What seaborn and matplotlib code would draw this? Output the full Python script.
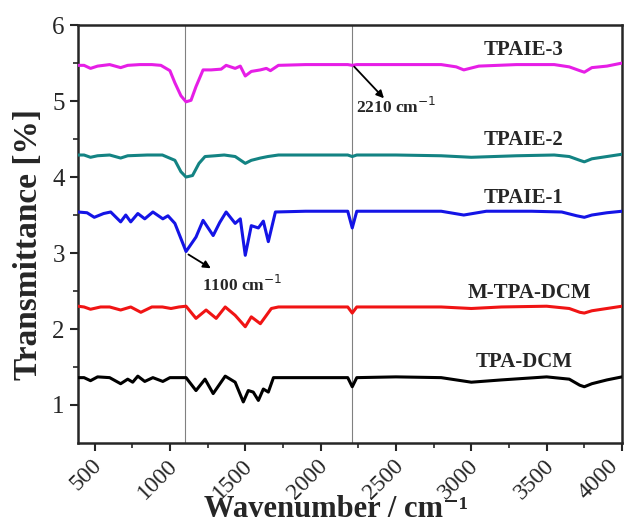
import pandas as pd
import matplotlib.pyplot as plt
import matplotlib.transforms as mtransforms
import seaborn as sns
import numpy as np

# ---------------------------------------------------------
# FTIR spectra (wavenumber, transmittance)
# ---------------------------------------------------------
wn_tpaie3 = [390, 430, 473, 520, 600, 673, 720, 800, 880, 940, 1000, 1033, 1073, 1107,
             1140, 1173, 1220, 1273, 1340, 1373, 1433, 1467, 1500, 1540, 1600, 1640,
             1667, 1720, 1900, 2100, 2180, 2210, 2240, 2500, 2800, 2900, 2950, 3050,
             3300, 3550, 3650, 3720, 3750, 3800, 3900, 4000]
tr_tpaie3 = [5.47, 5.47, 5.43, 5.46, 5.48, 5.44, 5.47, 5.48, 5.48, 5.47, 5.40, 5.24, 5.07, 4.99,
             5.01, 5.19, 5.41, 5.41, 5.42, 5.47, 5.43, 5.46, 5.33, 5.39, 5.41, 5.43,
             5.40, 5.47, 5.48, 5.48, 5.48, 5.47, 5.48, 5.48, 5.48, 5.45, 5.41, 5.46,
             5.48, 5.48, 5.45, 5.40, 5.38, 5.44, 5.46, 5.50]

wn_tpaie2 = [390, 430, 473, 520, 600, 673, 720, 850, 950, 1033, 1073, 1107, 1150, 1193,
             1233, 1300, 1360, 1433, 1500, 1540, 1600, 1650, 1720, 1900, 2180, 2210,
             2240, 2500, 2800, 3000, 3300, 3550, 3650, 3720, 3750, 3800, 3900, 4000]
tr_tpaie2 = [4.29, 4.29, 4.26, 4.28, 4.29, 4.25, 4.28, 4.29, 4.29, 4.22, 4.07, 4.00, 4.02, 4.18,
             4.27, 4.28, 4.29, 4.27, 4.18, 4.22, 4.25, 4.27, 4.29, 4.29, 4.29, 4.27,
             4.29, 4.29, 4.28, 4.26, 4.28, 4.29, 4.27, 4.22, 4.20, 4.24, 4.27, 4.30]

wn_tpaie1 = [390, 450, 498, 560, 607, 673, 707, 740, 787, 833, 887, 953, 987, 1033, 1107,
             1173, 1220, 1287, 1330, 1373, 1433, 1467, 1500, 1540, 1587, 1620, 1653,
             1700, 1900, 2180, 2210, 2240, 2500, 2800, 2950, 3100, 3400, 3600, 3700,
             3750, 3800, 3900, 4000]
tr_tpaie1 = [3.54, 3.53, 3.47, 3.52, 3.54, 3.41, 3.50, 3.41, 3.52, 3.45, 3.54, 3.45, 3.49, 3.39, 3.02,
             3.21, 3.43, 3.23, 3.40, 3.54, 3.39, 3.45, 2.97, 3.36, 3.33, 3.42, 3.15,
             3.54, 3.55, 3.55, 3.33, 3.55, 3.55, 3.55, 3.50, 3.55, 3.55, 3.54, 3.49,
             3.47, 3.50, 3.53, 3.55]

wn_mtpadcm = [390, 430, 473, 540, 600, 673, 740, 807, 880, 950, 1007, 1060, 1107, 1173, 1240,
              1307, 1367, 1433, 1500, 1540, 1600, 1633, 1673, 1720, 1900, 2180, 2210,
              2240, 2500, 2800, 3000, 3200, 3500, 3650, 3720, 3750, 3800, 3900, 4000]
tr_mtpadcm = [2.30, 2.29, 2.26, 2.29, 2.29, 2.25, 2.29, 2.22, 2.29, 2.29, 2.27, 2.29, 2.30, 2.14, 2.25,
              2.14, 2.29, 2.18, 2.03, 2.16, 2.07, 2.16, 2.27, 2.29, 2.29, 2.29, 2.21,
              2.29, 2.29, 2.29, 2.27, 2.29, 2.30, 2.27, 2.22, 2.21, 2.24, 2.27, 2.30]

wn_tpadcm = [390, 430, 473, 520, 600, 673, 720, 753, 787, 833, 887, 953, 1000, 1107, 1173,
             1233, 1287, 1367, 1433, 1487, 1520, 1553, 1587, 1620, 1653, 1687, 1900, 2180,
             2210, 2240, 2500, 2800, 3000, 3200, 3500, 3650, 3720, 3750, 3800, 3900, 4000]
tr_tpadcm = [1.36, 1.36, 1.32, 1.37, 1.36, 1.28, 1.34, 1.30, 1.38, 1.31, 1.36, 1.31, 1.36, 1.36, 1.19,
             1.34, 1.15, 1.38, 1.30, 1.04, 1.19, 1.17, 1.06, 1.21, 1.17, 1.36, 1.36, 1.36,
             1.24, 1.36, 1.37, 1.36, 1.30, 1.33, 1.37, 1.34, 1.26, 1.24, 1.28, 1.33, 1.37]

names = ["TPAIE-3", "TPAIE-2", "TPAIE-1", "M-TPA-DCM", "TPA-DCM"]
colors = ["#e61ee6", "#138383", "#1414e6", "#f01414", "#000000"]
label_x = [3347, 3347, 3347, 3387, 3353]
label_y = [5.67, 4.49, 3.72, 2.47, 1.57]

spectra = [(wn_tpaie3, tr_tpaie3), (wn_tpaie2, tr_tpaie2), (wn_tpaie1, tr_tpaie1),
           (wn_mtpadcm, tr_mtpadcm), (wn_tpadcm, tr_tpadcm)]

frames = []
for name, (wn, tr) in zip(names, spectra):
    frames.append(pd.DataFrame({"wavenumber": wn, "transmittance": tr, "sample": name}))
df = pd.concat(frames, ignore_index=True)

# ---------------------------------------------------------
# plot
# ---------------------------------------------------------
sns.set_style("ticks")
plt.rcParams["font.family"] = ["Liberation Serif", "DejaVu Serif"]

fig = plt.figure(figsize=(6.26, 5.29), dpi=100)
ax = fig.add_axes([0.1246, 0.1626, 0.869, 0.790])

ax.axvline(1100, color="#808080", lw=0.8, zorder=1)
ax.axvline(2210, color="#808080", lw=0.8, zorder=1)

sns.lineplot(data=df, x="wavenumber", y="transmittance", hue="sample",
             palette=dict(zip(names, colors)), hue_order=names, lw=2.2,
             sort=False, estimator=None, legend=False, ax=ax, zorder=3)

for name, lx, ly in zip(names, label_x, label_y):
    ax.text(lx, ly, name, ha="center", va="center", fontsize=15, fontweight="bold")

ax.annotate("", xy=(2433, 5.01), xytext=(2210, 5.48),
            arrowprops=dict(arrowstyle="-|>", color="black", lw=1.3, mutation_scale=11))
ax.text(2233, 4.92, "2210 cm$^{-1}$", ha="left", va="center", fontsize=12.5, fontweight="bold")
ax.annotate("", xy=(1287, 2.78), xytext=(1107, 3.0),
            arrowprops=dict(arrowstyle="-|>", color="black", lw=1.3, mutation_scale=11))
ax.text(1213, 2.58, "1100 cm$^{-1}$", ha="left", va="center", fontsize=12.5, fontweight="bold")

ax.set_xlim(390, 4000)
ax.set_ylim(0.5, 6)
ax.set_xticks(np.arange(500, 4001, 500))
ax.set_xticks(np.arange(750, 4000, 500), minor=True)
ax.set_yticks(np.arange(1, 7, 1))
ax.set_yticks(np.arange(1.5, 6, 1), minor=True)
ax.tick_params(axis="both", which="major", direction="out", length=6, width=1.5, labelsize=18)
ax.tick_params(axis="x", which="major", labelsize=17, pad=8)
ax.tick_params(axis="both", which="minor", direction="out", length=3.5, width=1.2)
xlabels = ax.get_xticklabels()
for i, lab in enumerate(xlabels):
    lab.set_rotation(45)
    lab.set_ha("right")
    lab.set_va("center")
    lab.set_rotation_mode("anchor")
    dx = 3 if i < len(xlabels) - 1 else -5
    lab.set_transform(lab.get_transform() +
                      mtransforms.ScaledTranslation(dx / 72, 0, fig.dpi_scale_trans))
for s in ax.spines.values():
    s.set_linewidth(1.8)

ax.set_xlabel("Wavenumber / cm\u207b\u00b9", fontsize=22, fontweight="bold")
ax.set_ylabel("Transmittance [%]", fontsize=24, fontweight="bold")
ax.xaxis.set_label_coords(0.474, -0.124)
ax.yaxis.set_label_coords(-0.062, 0.474)

plt.savefig("out.png", dpi=100)
